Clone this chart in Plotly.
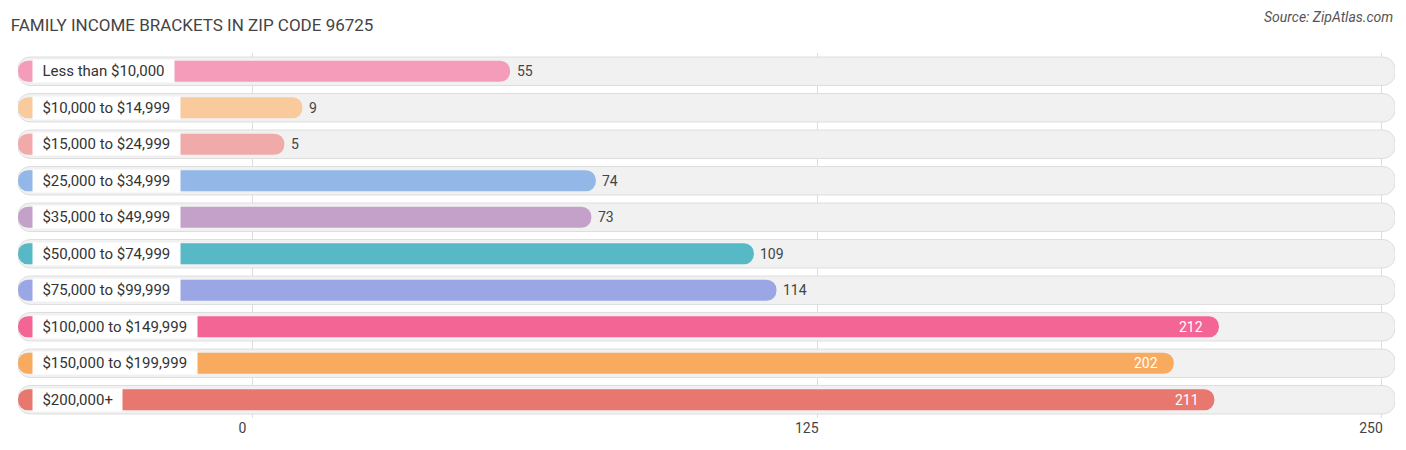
import plotly.graph_objects as go

categories = ["Less than $10,000","$10,000 to $14,999","$15,000 to $24,999","$25,000 to $34,999",
              "$35,000 to $49,999","$50,000 to $74,999","$75,000 to $99,999","$100,000 to $149,999",
              "$150,000 to $199,999","$200,000+"]
values = [55, 9, 5, 74, 73, 109, 114, 212, 202, 211]
colors = ["#f59cba","#f9ca9c","#f0aaa9","#93b7e7","#c4a1c9","#56b9c5","#9ba7e5","#f26595","#f8aa5e","#e8786f"]
tick_vals = [0, 125, 250]
tick_text = ["0      ", "125      ", "250      "]

XMIN, XMAX = -52, 253
fig = go.Figure()
fig.add_bar(y=categories, x=[XMAX - XMIN]*len(categories), base=XMIN, orientation="h",
            marker=dict(color="#f1f1f1", line=dict(color="#dedede", width=1)), width=0.78,
            hoverinfo="skip")
fig.add_bar(y=categories, x=[v - XMIN + 2 for v in values], base=XMIN, orientation="h",
            marker=dict(color=colors, line=dict(width=0)), width=0.58, hoverinfo="skip")
for c, v in zip(categories, values):
    fig.add_annotation(x=XMIN + 3, y=c, text="  " + c + "  ", showarrow=False, xanchor="left",
                       bgcolor="white", borderpad=2, font=dict(size=15, color="#333"))
    inside = v > 180
    fig.add_annotation(x=v + (-1 if inside else 3), y=c, text=str(v), showarrow=False,
                       xanchor="right" if inside else "left",
                       font=dict(size=14, color="white" if inside else "#444"))
fig.update_layout(
    width=1406, height=450, barmode="overlay", barcornerradius=12, showlegend=False,
    plot_bgcolor="white", paper_bgcolor="white",
    margin=dict(l=10, r=10, t=45, b=40), font=dict(family="Roboto"),
    title=dict(text="FAMILY INCOME BRACKETS IN ZIP CODE 96725", xref="container", x=0.002,
               y=0.975, font=dict(size=17, color="#444")),
    xaxis=dict(range=[XMIN, XMAX], tickvals=tick_vals, ticktext=tick_text, showgrid=True,
               gridcolor="#dddddd", zeroline=False, tickfont=dict(size=14, color="#444")),
    yaxis=dict(autorange="reversed", showticklabels=False, showgrid=False),
)
fig.add_annotation(text="Source: ZipAtlas.com", xref="paper", yref="paper", x=1, y=1.125,
                   showarrow=False, xanchor="right", font=dict(size=14, color="#555", style="italic"))
fig.write_html("out.html")
